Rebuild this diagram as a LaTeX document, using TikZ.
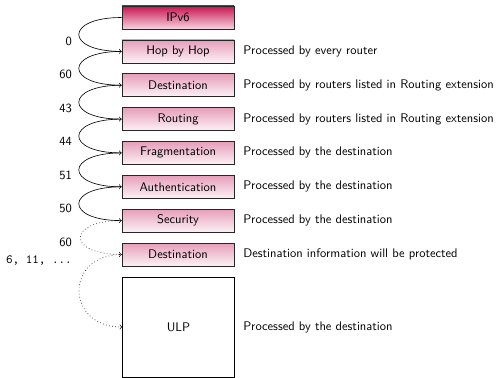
\documentclass[tikz,border=0pt]{standalone}
\usepackage{fontspec}
\definecolor{hdtop}{RGB}{200,20,80}
\definecolor{hdbot}{RGB}{246,212,224}
\definecolor{extop}{RGB}{230,158,184}
\definecolor{exbot}{RGB}{252,242,246}
\begin{document}
\begin{tikzpicture}[x=0.8pt,y=-0.8pt,
  font=\sffamily,
  ext/.style={draw=black!85, line width=0.6pt, minimum width=89.6pt, minimum height=18.4pt, inner sep=0pt, top color=extop, bottom color=exbot},
  hdr/.style={ext, top color=hdtop, bottom color=hdbot},
  desc/.style={anchor=west, inner sep=0pt},
  num/.style={anchor=east, inner sep=0pt},
  hop/.style={->, line width=0.5pt},
  hopd/.style={hop, dotted}]
\useasboundingbox (0,0) rectangle (496,378);
\node[hdr] (ipv6) at (178,17.5) {IPv6};
\node[ext] (hbh) at (178,51.4) {Hop by Hop};
\node[ext] (dst1) at (178,85.2) {Destination};
\node[ext] (rt) at (178,119.1) {Routing};
\node[ext] (frag) at (178,152.9) {Fragmentation};
\node[ext] (auth) at (178,186.8) {Authentication};
\node[ext] (sec) at (178,220.6) {Security};
\node[ext] (dst2) at (178,254.5) {Destination};
\node[draw=black, line width=0.6pt, minimum width=89.6pt, minimum height=80pt, inner sep=0pt, fill=white] (ulp) at (178.5,327) {ULP};

\node[desc] (d1) at (243,51.4) {Processed by every router};
\node[desc] (d2) at (243,85.2) {Processed by routers listed in Routing extension};
\node[desc] (d3) at (243,119.1) {Processed by routers listed in Routing extension};
\node[desc] (d4) at (243,152.9) {Processed by the destination};
\node[desc] (d5) at (243,186.8) {Processed by the destination};
\node[desc] (d6) at (243,220.6) {Processed by the destination};
\node[desc] (d7) at (243,254.5) {Destination information will be protected};
\node[desc] (d8) at (243,327) {Processed by the destination};

\draw[hop] (ipv6.west) .. controls +(-57,0) and +(-57,0) .. (hbh.west);
\draw[hop] (hbh.west) .. controls +(-57,0) and +(-57,0) .. (dst1.west);
\draw[hop] (dst1.west) .. controls +(-57,0) and +(-57,0) .. (rt.west);
\draw[hop] (rt.west) .. controls +(-57,0) and +(-57,0) .. (frag.west);
\draw[hop] (frag.west) .. controls +(-57,0) and +(-57,0) .. (auth.west);
\draw[hop] (auth.west) .. controls +(-57,0) and +(-57,0) .. (sec.west);
\draw[hopd] (sec.west) .. controls +(-55,0) and +(-55,0) .. (dst2.west);
\draw[hopd] (dst2.west) .. controls +(-57,0) and +(-57,0) .. (ulp.west);

\node[num] (n1) at (72,41) {0};
\node[num] (n2) at (72,74) {60};
\node[num] (n3) at (72,108) {43};
\node[num] (n4) at (72,141) {44};
\node[num] (n5) at (72,175) {51};
\node[num] (n6) at (72,208) {50};
\node[num] (n7) at (72,242) {60};
\node[num, font=\ttfamily] (n8) at (72,260) {6, 11, ...};
\end{tikzpicture}
\end{document}
